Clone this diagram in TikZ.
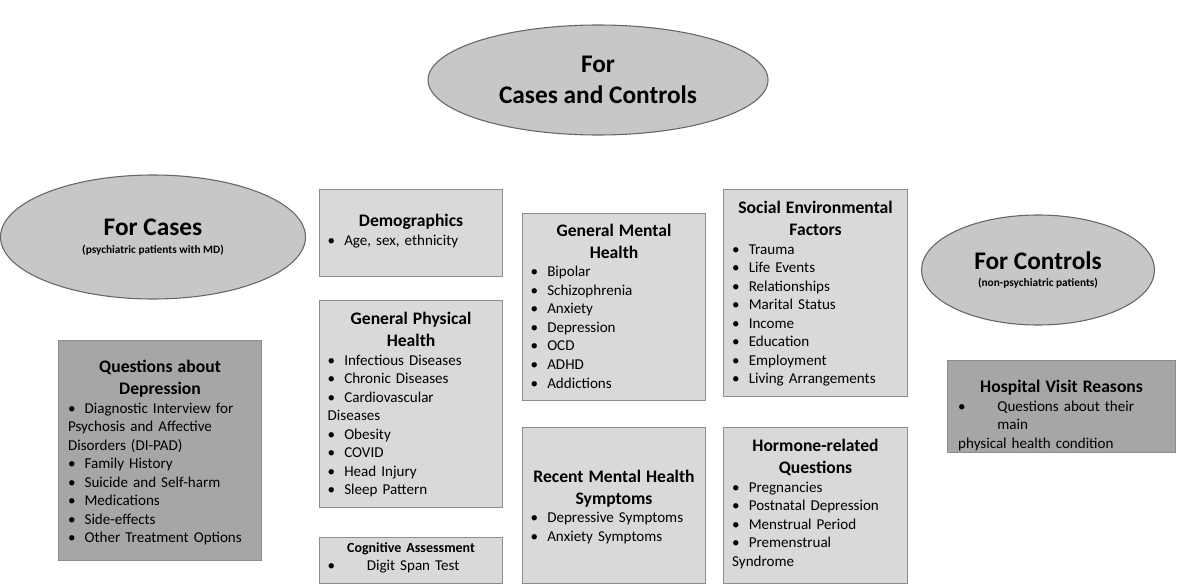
\documentclass[tikz,border=0pt]{standalone}
\usepackage{fontspec}
\setmainfont{Carlito}
\usetikzlibrary{shapes.geometric}
\newcommand{\bi}[1]{\par\hangindent=1.1em\hangafter=1\noindent\makebox[1.1em][l]{\textbullet}#1\par}
\newcommand{\bw}[1]{\par\hangindent=2.6em\hangafter=1\noindent\makebox[2.6em][l]{\textbullet}#1\par}
\begin{document}
\begin{tikzpicture}[x=0.75pt,y=-0.75pt,
  ell/.style={ellipse,draw=black!60,fill=black!22,line width=0.8pt,inner sep=0pt},
  box/.style={draw=black!45,fill=black!15,line width=0.8pt,anchor=north west,inner sep=0pt},
  dbox/.style={draw=black!45,fill=black!35,line width=0.8pt,anchor=north west,inner sep=0pt},
  body/.style={anchor=north,text width=#1,align=left,font=\fontsize{11.3}{13.9}\selectfont,inner sep=0pt}]
\useasboundingbox (0,0) rectangle (1200,585);
\node[ell,minimum width=340*0.75pt,minimum height=110*0.75pt] (top) at (598,80)
  {\parbox{5.6cm}{\centering\bfseries\fontsize{19}{23}\selectfont For\\Cases and Controls}};
\node[ell,minimum width=305*0.75pt,minimum height=124*0.75pt] (cases) at (153,237)
  {\parbox{5cm}{\centering\bfseries{\fontsize{19}{22}\selectfont For Cases}\\[1pt]{\fontsize{8.5}{11}\selectfont (psychiatric patients with MD)}}};
\node[ell,minimum width=233*0.75pt,minimum height=110*0.75pt] (controls) at (1038,270)
  {\parbox{3.7cm}{\centering\bfseries{\fontsize{19}{22}\selectfont For Controls}\\[1pt]{\fontsize{8.5}{11}\selectfont (non-psychiatric patients)}}};
% boxes
\node[box,minimum width=183*0.75pt,minimum height=87*0.75pt] (demo) at (319,189) {};
\node[body=125pt] at ([yshift=-19pt]demo.north) {{\centering\bfseries\fontsize{13.2}{16.5}\selectfont Demographics\par}\bi{Age, sex, ethnicity}};
\node[box,minimum width=183*0.75pt,minimum height=207*0.75pt] (phys) at (319,300) {};
\node[body=125pt] at ([yshift=-9pt]phys.north) {{\centering\bfseries\fontsize{13.2}{16.5}\selectfont General Physical\\Health\par}\bi{Infectious Diseases}\bi{Chronic Diseases}\bi{Cardiovascular\\Diseases}\bi{Obesity}\bi{COVID}\bi{Head Injury}\bi{Sleep Pattern}};
\node[box,minimum width=183*0.75pt,minimum height=46*0.75pt] (cog) at (319,537) {};
\node[body=125pt] at ([yshift=-4pt]cog.north) {{\centering\bfseries\fontsize{10.5}{13.5}\selectfont Cognitive Assessment\par}\bw{Digit Span Test}};
\node[box,minimum width=183*0.75pt,minimum height=187*0.75pt] (ment) at (522,213) {};
\node[body=125pt] at ([yshift=-8pt]ment.north) {{\centering\bfseries\fontsize{13.2}{16.5}\selectfont General Mental\\Health\par}\bi{Bipolar}\bi{Schizophrenia}\bi{Anxiety}\bi{Depression}\bi{OCD}\bi{ADHD}\bi{Addictions}};
\node[box,minimum width=183*0.75pt,minimum height=156*0.75pt] (rec) at (522,427) {};
\node[body=125pt] at ([yshift=-32pt]rec.north) {{\centering\bfseries\fontsize{13.2}{16.5}\selectfont Recent Mental Health\\Symptoms\par}\bi{Depressive Symptoms}\bi{Anxiety Symptoms}};
\node[box,minimum width=184*0.75pt,minimum height=207*0.75pt] (soc) at (723,189) {};
\node[body=125pt] at ([yshift=-9pt]soc.north) {{\centering\bfseries\fontsize{13.2}{16.5}\selectfont Social Environmental\\Factors\par}\bi{Trauma}\bi{Life Events}\bi{Relationships}\bi{Marital Status}\bi{Income}\bi{Education}\bi{Employment}\bi{Living Arrangements}};
\node[box,minimum width=184*0.75pt,minimum height=156*0.75pt] (horm) at (723,427) {};
\node[body=125pt] at ([yshift=-9pt]horm.north) {{\centering\bfseries\fontsize{13.2}{16.5}\selectfont Hormone-related\\Questions\par}\bi{Pregnancies}\bi{Postnatal Depression}\bi{Menstrual Period}\bi{Premenstrual\\Syndrome}};
\node[dbox,minimum width=203*0.75pt,minimum height=220*0.75pt] (dep) at (58,340) {};
\node[body=138pt] at ([yshift=-15pt]dep.north) {{\centering\bfseries\fontsize{13.2}{16.5}\selectfont Questions about\\Depression\par}\bi{Diagnostic Interview for\\Psychosis and Affective\\Disorders (DI-PAD)}\bi{Family History}\bi{Suicide and Self-harm}\bi{Medications}\bi{Side-effects}\bi{Other Treatment Options}};
\node[dbox,minimum width=228*0.75pt,minimum height=92*0.75pt] (hosp) at (947,360) {};
\node[body=155pt] at ([yshift=-15pt]hosp.north) {{\centering\bfseries\fontsize{13.2}{16.5}\selectfont Hospital Visit Reasons\par}\bw{Questions about their main\\physical health condition}};
\end{tikzpicture}
\end{document}
